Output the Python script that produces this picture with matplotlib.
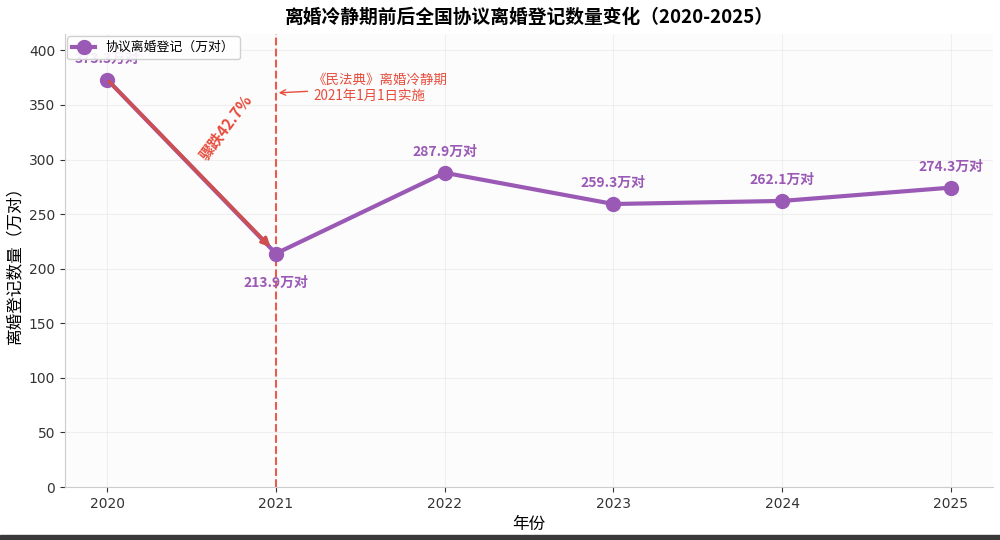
import matplotlib
matplotlib.use("Agg")
import matplotlib.pyplot as plt
from matplotlib.patches import Rectangle

plt.rcParams['font.family'] = ['Noto Sans CJK SC', 'DejaVu Sans']
plt.rcParams['axes.unicode_minus'] = False

# données
annees = [2020, 2021, 2022, 2023, 2024, 2025]
valeurs = [373.3, 213.9, 287.9, 259.3, 262.1, 274.3]
etiquettes = ["373.3万对", "213.9万对", "287.9万对", "259.3万对", "262.1万对", "274.3万对"]

violet = "#9b59b6"
rouge = "#e74c3c"

fig = plt.figure(figsize=(10, 5.4), dpi=100)
ax = fig.add_axes([0.065, 0.098, 0.928, 0.839])
ax.set_facecolor("#fcfcfc")

ax.plot(annees, valeurs, color=violet, linewidth=3, marker="o", markersize=10,
        label="协议离婚登记（万对）", zorder=3)

# étiquettes des points
for i, (a, v) in enumerate(zip(annees, valeurs)):
    if i == 1:
        ax.annotate(etiquettes[i], (a, v), xytext=(0, -16), textcoords="offset points",
                    ha="center", va="top", fontsize=10, fontweight="bold", color=violet)
    else:
        ax.annotate(etiquettes[i], (a, v), xytext=(0, 10), textcoords="offset points",
                    ha="center", va="bottom", fontsize=10, fontweight="bold", color=violet)

# flèche de la chute
ax.annotate("", xy=(annees[1] - 0.02, valeurs[1] + 4), xytext=(annees[0], valeurs[0]),
            arrowprops=dict(arrowstyle="-|>", color="#cd4f4f", lw=2.5, mutation_scale=12),
            zorder=4)
ax.text(2020.705, 330, "骤跌42.7%", rotation=53, ha="center", va="center",
        fontsize=11, fontweight="bold", color=rouge)

# ligne du code civil
ax.axvline(2021, color=rouge, linestyle="--", linewidth=1.5, alpha=0.9, zorder=2)
ax.annotate("《民法典》离婚冷静期\n2021年1月1日实施", xy=(2021.0, 361), xytext=(2021.22, 366),
            ha="left", va="center", fontsize=9.7, color=rouge,
            arrowprops=dict(arrowstyle="->", color=rouge, lw=1))

ax.set_xlim(2019.75, 2025.25)
ax.set_ylim(0, 415)
ax.set_xticks(annees)
ax.set_yticks(range(0, 401, 50))
ax.tick_params(colors="#333333", labelsize=10)
for lab in ax.get_xticklabels() + ax.get_yticklabels():
    lab.set_family("DejaVu Sans")

ax.set_title("离婚冷静期前后全国协议离婚登记数量变化（2020-2025）",
             fontsize=13.5, fontweight="bold", pad=8)
ax.set_xlabel("年份", fontsize=12)
ax.set_ylabel("离婚登记数量（万对）", fontsize=12)

ax.grid(True, color="#dddddd", alpha=0.4, linewidth=0.8)
ax.spines["top"].set_visible(False)
ax.spines["right"].set_visible(False)
ax.spines["left"].set_color("#cccccc")
ax.spines["bottom"].set_color("#cccccc")

ax.legend(loc="upper left", fontsize=9.3, framealpha=0.9, borderaxespad=0.15,
          handlelength=1.8)

# bande sombre en bas (capture d'écran)
fig.patches.append(Rectangle((0, 0), 1, 5 / 540, transform=fig.transFigure,
                             color="#3a3a3a", zorder=0))

fig.savefig("out.png", dpi=100)
